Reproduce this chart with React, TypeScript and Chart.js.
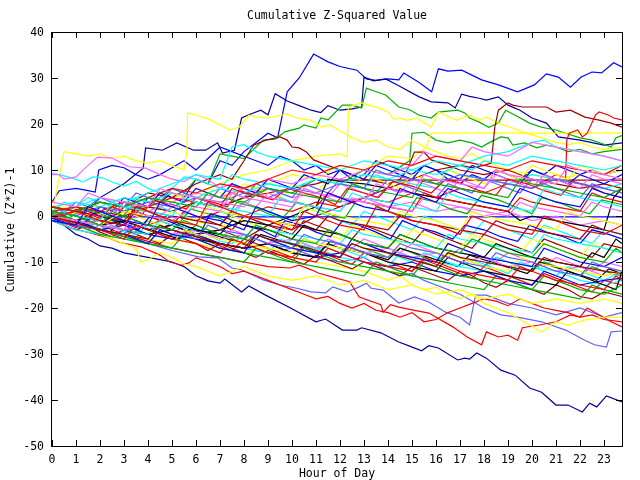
import React, { useEffect, useRef } from 'react';
import { Chart, registerables } from 'chart.js';
Chart.register(...registerables);

type Pt = [number, number];

const titleText = 'Cumulative Z-Squared Value';
const xTitle = 'Hour of Day';
const yTitle = 'Cumulative (Z*Z)-1';
const xTicks = [0, 1, 2, 3, 4, 5, 6, 7, 8, 9, 10, 11, 12, 13, 14, 15, 16, 17, 18, 19, 20, 21, 22, 23];
const yTicks = [-50, -40, -30, -20, -10, 0, 10, 20, 30, 40];
const xMax = 23.75;

const blueTop: Pt[] = [[0,1],[0.5,0],[1,-1],[2,-2],[2.5,0],[3,1],[3.5,0.5],[4,4],[4.5,3],[5,5],[5.5,4],[6,8],[6.5,7],[7,12],[7.5,11],[8,14],[8.5,16],[9,18],[9.4,17],[9.8,27],[10.3,30],[10.9,35.2],[11.5,33.5],[12,32.5],[12.7,31.7],[13.1,29.8],[13.5,29.5],[14,29.8],[14.45,29.6],[14.66,31.1],[15.3,29],[15.82,27],[16.1,32],[16.5,31.5],[17.07,31.7],[17.9,29.6],[18.6,28.5],[19.4,27],[20.1,28.5],[20.6,30.9],[21.1,30.2],[21.6,28],[22.05,30.2],[22.5,31.3],[22.9,31.1],[23.4,33.3],[23.75,32.4]];
const navyHigh: Pt[] = [[0,0],[0.5,1],[1,2],[1.5,1],[2,4],[3,7],[3.8,10.4],[3.9,14.8],[4.6,14.3],[5.2,15.9],[5.9,14.3],[6.4,14.3],[6.9,15.9],[7.1,13.7],[7.6,14.3],[7.9,21.3],[8.2,22],[8.7,23],[9,22],[9.3,26.6],[9.8,25],[10.3,24],[10.8,23],[11.2,22.5],[11.5,24],[12,23],[12.5,23.3],[12.9,23.7],[13.0,30.2],[13.4,29.4],[13.9,29.8],[14.45,28.3],[15.3,25.9],[15.8,24.8],[16.5,24.6],[16.8,23.5],[17.07,26.5],[17.4,26],[17.8,25.6],[18.1,25.2],[18.6,25.9],[19,24.1],[19.5,23],[20,21.3],[20.6,20.2],[21.1,17.2],[22,16.5],[23,15.4],[23.75,15.9]];
const blueMid: Pt[] = [[0,3],[0.3,5.5],[1,6],[1.5,5.5],[1.8,5.2],[1.95,10],[2.5,11],[3,10.5],[3.5,9],[4,8],[4.5,9],[5,10.5],[5.5,12],[6,10],[6.5,12.5],[7,15],[7.5,14],[8,13],[8.5,12],[9,11],[9.5,13],[10,12],[10.5,10],[11,11],[11.5,9],[12,10],[12.5,8],[13,9],[13.5,12],[14,11],[14.5,10],[15,9],[15.5,11],[16,10],[16.5,8],[17,7],[17.5,9],[18,8],[18.5,10],[19,9],[19.5,8],[20,10],[20.5,9],[21,11],[21.5,10],[22,9],[22.5,10],[23,9],[23.75,10]];
const greenTop: Pt[] = [[0,0],[0.5,-1],[1,-1.5],[1.5,0],[2,1],[2.5,0],[3,3],[3.5,2],[4,2],[4.5,4],[5,6],[5.5,5],[6,8],[6.5,7],[7,13.5],[7.5,13],[8,12.5],[8.5,15],[8.8,16.5],[9.3,16.7],[9.7,18.3],[10.3,19.1],[10.5,19.8],[11,19.1],[11.2,21.3],[11.5,20.9],[12.1,24.1],[12.5,24.1],[12.9,23.5],[13.1,27.8],[13.3,27.4],[13.9,26.3],[14.45,23.7],[14.9,23.1],[15.3,21.9],[15.8,21.3],[16.1,22.6],[16.9,23],[17.2,22.4],[17.4,21.3],[17.8,20.4],[18.2,19.3],[18.6,20.2],[18.9,23],[19.3,21.9],[19.9,20.2],[20.4,19.3],[21,18.7],[21.4,18],[22,17],[22.5,16.5],[23,15.6],[23.3,15],[23.5,17],[23.75,17.5]];
const greenMid: Pt[] = [[0,0],[1,2],[2,1],[3,0],[4,2],[5,1],[6,3],[7,2],[8,4],[9,6],[10,5],[11,8],[12,7],[13,10],[14,9],[14.9,12],[15,18],[15.5,18.2],[16,16.5],[16.5,15.9],[17,16.5],[17.5,15.9],[17.9,15],[18.2,15.9],[18.7,17.2],[19,17],[19.2,15.4],[19.7,15.9],[20.2,14.8],[20.6,15.4],[21,15],[21.5,14],[22,14.5],[22.5,13.5],[23,14],[23.75,14.5]];
const yellowEarly: Pt[] = [[0,0],[0.5,14],[1,13.5],[1.5,13],[2,13.5],[2.5,12.5],[3,13],[3.5,12],[4,11.5],[4.5,12],[5,11],[5.5,10],[5.62,14.3],[5.65,22.4],[6,22],[6.6,20.9],[7,19.8],[7.4,18.7],[7.8,19.3],[8.2,21.9],[8.5,21.5],[9,21.3],[9.8,22.2],[10.2,21.3],[10.8,20.8],[11.2,19.3],[11.6,19.8],[12,18.5],[12.5,17],[13,16],[13.5,16.5],[14,15],[14.5,14.5],[15,16.5],[15.5,15],[16,14],[16.5,13],[17,12.5],[17.5,13.5],[18,12],[19,10],[20,9],[21,8],[22,9],[23,7],[23.75,6]];
const yellowJump: Pt[] = [[0,0],[1,-1],[2,-2],[3,0],[4,2],[5,4],[6,5],[7,7],[8,9],[9,10],[10,12],[11,13],[12,13.5],[12.3,12.8],[12.35,23.7],[12.9,24.6],[13.2,24.1],[13.6,23.5],[14,22.6],[14.25,20.9],[14.45,21.3],[14.8,20.8],[15.2,21.3],[15.8,19.3],[16.1,22.6],[16.85,20.8],[17.4,21.9],[17.8,20.8],[18.1,21.5],[18.6,20.2],[19.1,19.3],[19.6,18.3],[20.3,17.2],[21,16],[21.5,15.5],[22,16],[22.5,15],[23,14.5],[23.75,15]];
const yellowFlat: Pt[] = [[0,0],[1,1],[2,2],[3,1],[4,1],[5,3],[6,5],[7,4],[8,6],[9,7],[10,9],[11,8],[12,11],[13,10],[14,13],[15,12.5],[15.6,15],[15.8,18],[23.75,18]];
const redJump: Pt[] = [[0,0],[1,-1],[2,1],[3,0],[4,-2],[5,0],[6,-1],[7,1],[8,0],[9,2],[10,1],[11,3],[12,2],[13,4],[14,3],[15,5],[16,4],[17,6],[18,5],[19,7],[20,6],[21,9],[21.4,8.3],[21.45,16.5],[21.55,18],[21.9,18.7],[22.1,17.2],[22.3,18],[22.65,22],[22.8,22.6],[23.2,21.9],[23.4,21.3],[23.75,20.9]];
const darkRedJump: Pt[] = [[0,0],[1,-1],[2,-2],[3,-1],[4,-3],[5,-2],[6,-4],[7,-3],[8,-5],[9,-2],[10,-3],[11,0],[12,2],[13,4],[14,6],[15,8],[16,10],[17,11],[17.5,10.5],[18,11],[18.3,11.5],[18.45,19.3],[18.6,23],[19,24.6],[19.2,24.1],[19.6,23.7],[20.6,23.7],[21,22.6],[21.6,23],[22.2,21.5],[22.75,20.9],[23.3,20.2],[23.75,19.3]];
const darkRedMid: Pt[] = [[0,0],[1,1],[2,3],[3,2],[4,5],[5,4],[6,7],[7,9],[7.5,8],[8,12],[8.4,15.4],[8.9,16.5],[9.5,17.2],[9.8,16.5],[10,15],[10.3,14.8],[10.6,13.9],[10.9,12.2],[11.5,11],[12,10],[12.5,9],[13,8],[14,7],[14.5,8],[14.8,10],[15.1,13.9],[15.5,13.9],[15.8,12.2],[16.5,11],[17,10],[18,9],[19,10],[20,8],[21,7],[22,6],[23,7],[23.75,6]];
const darkRedFlat: Pt[] = [[0,0],[1,-1],[2,1],[3,0],[4,2],[5,1],[6,3],[7,2],[8,4],[9,5],[10,6],[11,7],[11.5,7.8],[23.75,7.8]];
const blueFlat: Pt[] = [[0,0],[0.5,-1],[1,-1.5],[1.5,-1],[2,-2],[2.4,-0.2],[23.75,-0.2]];
const navyLow: Pt[] = [[0,0],[0.5,-2],[1,-4],[1.5,-5],[2,-6.5],[2.5,-7],[3,-8],[3.5,-8.5],[4,-9],[4.5,-9.5],[5,-10],[5.5,-11],[6,-13],[6.5,-14.1],[7,-14.6],[7.2,-13.7],[7.9,-16.5],[8.2,-15.2],[8.9,-17.2],[9.9,-19.9],[11,-23],[11.4,-22.4],[12.1,-24.8],[12.7,-24.8],[12.9,-24.3],[13.7,-25.4],[14.45,-27.4],[14.9,-28.3],[15.4,-29.3],[15.7,-28.2],[16.1,-28.7],[16.9,-31.3],[17.2,-30.9],[17.4,-31.1],[17.7,-29.8],[18.1,-30.9],[18.7,-33.5],[19.3,-34.6],[19.9,-37.4],[20.4,-38.3],[21,-41.1],[21.5,-41.1],[22.1,-42.6],[22.4,-40.7],[22.7,-41.5],[23.1,-39.1],[23.75,-40.4]];
const slateLow: Pt[] = [[0,0],[1,-2],[2,-3],[3,-4.5],[4,-6],[5,-7.5],[6.1,-8.9],[6.9,-9.1],[7.5,-11.3],[7.9,-11.7],[8.8,-13.9],[9.5,-15],[10.2,-15.7],[10.8,-16.5],[11.4,-16.7],[11.7,-15.4],[12.3,-16.5],[12.8,-15.4],[13.1,-14.6],[13.3,-15.7],[13.8,-16.1],[14.45,-18.9],[15.1,-17.6],[15.7,-18.7],[16.4,-20.9],[17,-22],[17.4,-23.7],[17.65,-17.2],[18.1,-17.2],[18.4,-17.8],[19,-19],[20,-20],[21,-21.5],[22,-20],[23,-22],[23.75,-21]];
const slateLowest: Pt[] = [[0,0],[1,-1],[2,-3],[3,-2],[4,-4],[5,-5],[6,-4],[7,-6],[8,-7],[9,-8],[10,-7],[11,-9],[12,-10],[13,-9],[14,-12],[14.5,-13],[15,-12.5],[15.5,-14],[16,-15],[16.5,-16],[17,-17],[17.5,-18.5],[18,-20],[18.7,-21.5],[19.4,-22],[20.4,-23],[21.4,-24.8],[22.2,-27],[22.6,-28],[23.1,-28.5],[23.3,-25.2],[23.75,-25]];
const redLow: Pt[] = [[0,0],[1,-1.5],[2,-3],[3,-4],[4,-5.5],[5,-7],[6,-8],[7,-9],[8,-10],[9,-11],[9.9,-11.3],[10.3,-10.7],[10.8,-11.7],[11.1,-12.4],[11.7,-13.3],[12.4,-14.3],[12.8,-17.6],[13.7,-19.3],[13.8,-20.9],[14.1,-19.3],[14.45,-19.8],[15,-20.4],[15.7,-21.1],[16.7,-24.1],[17.3,-26.3],[17.9,-28],[18.1,-25.2],[18.6,-26.3],[19,-25.9],[19.4,-27],[19.6,-24.3],[20.3,-23.7],[21,-23],[21.6,-21.5],[22,-22],[22.3,-20],[23.3,-23],[23.75,-24.1]];
const redLeftLow: Pt[] = [[0,-1],[0.8,-2.6],[1.6,-3.7],[2.4,-4.8],[2.8,-5.7],[3.7,-6.7],[4.5,-8.5],[4.9,-10],[5.4,-10.7],[5.7,-10.2],[6,-9.1],[6.5,-10],[7,-11],[7.5,-12.5],[8,-12],[8.5,-13],[9,-14],[9.5,-15],[10,-16],[10.5,-17],[11,-18],[11.5,-17.5],[12,-19],[12.5,-20],[13,-19],[13.5,-20.5],[14,-21],[14.5,-22],[15,-21],[15.5,-23],[16,-22.5],[16.5,-21],[17,-20],[17.5,-19],[18,-18],[18.5,-18.5],[19,-19.5],[19.5,-18],[20,-19],[20.5,-20],[21,-20.5],[21.5,-21],[22,-22],[22.5,-21.5],[23,-22.5],[23.75,-23]];
const yellowLow: Pt[] = [[0,0],[1,-2],[2,-4],[3,-6],[3.5,-7],[3.7,-10],[4,-9.5],[4.5,-8],[5,-9],[5.5,-10.5],[6,-11],[6.5,-12],[7,-13],[7.5,-12],[8,-11],[9,-13],[10,-14],[11,-13],[12,-15],[13,-14],[14,-16],[15,-15],[16,-17],[17,-16],[18,-18],[19,-17],[20,-19],[21,-18],[22,-19],[23,-18],[23.75,-19]];
const yellowLow2: Pt[] = [[0,0],[1,-1],[2,-3],[3,-2],[4,-4],[5,-5],[6,-6],[7,-7],[8,-8],[9,-7],[10,-9],[11,-10],[12,-11],[13,-12],[14,-14],[14.5,-13],[15,-15],[15.5,-16],[16,-15.5],[16.5,-17],[17,-18],[17.5,-17],[18,-19],[18.5,-20],[19,-21],[19.5,-22.5],[20.1,-24.3],[20.4,-25.2],[21,-23],[21.5,-23.7],[22.2,-22.6],[23,-22],[23.75,-22]];
const magentaHigh: Pt[] = [[0,9],[0.3,9],[0.5,8],[1,8.5],[1.5,11],[1.9,12.8],[2.5,12.6],[2.9,11.5],[3.2,10.7],[3.9,10.4],[4.5,9],[5,8],[5.5,7.5],[6,9],[6.5,8],[7,6],[7.5,7],[8,5],[9,6],[10,4],[11,5],[12,3],[13,4],[14,2],[15,3],[16,1],[17,2],[18,0],[19,1],[20,-1],[21,0],[22,-2],[23,-1],[23.75,-2]];
const cyanHigh: Pt[] = [[0,9.3],[0.4,8.9],[0.8,8.3],[1.3,7.4],[1.7,8.5],[2.1,8.3],[2.5,7.4],[3,6.5],[3.5,7.5],[4,6],[4.5,5],[5,6],[5.5,8.5],[6,8],[6.5,7],[7,6],[7.5,9],[8,8],[9,7],[10,6],[10.5,9],[11,8],[12,7],[13,6],[13.5,9],[14,8],[15,7],[16,6],[16.5,10],[17,9],[18,8],[19,7],[20,9],[21,8],[22,7],[23,6],[23.75,7]];
const bg1: Pt[] = [[0,2],[1,1],[2,-1],[3,-2],[3.5,2],[4,1],[5,-1],[6,-2],[6.5,3],[7,2],[8,0],[9,-1],[10,-3],[10.5,1],[11,0],[12,-2],[13,-3],[13.5,2],[14,1],[15,-1],[16,-2],[17,-4],[17.5,0],[18,-1],[19,-3],[20,-4],[20.5,0],[21,-1],[22,-3],[23,-4],[23.75,-2]];
const bg2: Pt[] = [[0,1],[1,0],[2,-2],[2.5,1],[3,0],[4,-2],[5,-3],[5.5,-1],[6,-2],[7,-4],[8,-5],[8.5,-2],[9,-3],[10,-5],[11,-6],[11.5,-3],[12,-4],[13,-6],[14,-7],[14.5,-4],[15,-5],[16,-7],[17,-8],[17.5,-5],[18,-6],[19,-8],[20,-9],[20.5,-6],[21,-7],[22,-9],[23,-10],[23.5,-7],[23.75,-8]];
const bg3: Pt[] = [[0,-1],[1,-2],[1.5,2],[2,1],[3,-1],[4,-2],[4.5,3],[5,2],[6,0],[7,-1],[8,-3],[8.5,2],[9,1],[10,-1],[11,0],[11.5,5],[12,4],[13,2],[14,1],[14.5,6],[15,5],[16,3],[16.5,6],[17,5],[18,3],[19,2],[19.5,6],[20,5],[21,3],[22,2],[22.5,6],[23,5],[23.75,4]];
const bg4: Pt[] = [[0,0],[1,-1],[2,-2],[3,-3],[3.5,1],[4,0],[5,-1],[6,2],[7,1],[7.5,5],[8,4],[9,3],[10,2],[10.5,6],[11,5],[12,4],[13,3],[13.5,7],[14,6],[15,5],[15.5,9],[16,8],[17,7],[18,6],[18.5,10],[19,9],[20,8],[21,7],[21.5,11],[22,10],[23,9],[23.75,8]];
const bg5: Pt[] = [[0,1],[1,0],[2,-1],[2.5,3],[3,2],[4,1],[5,0],[5.5,4],[6,3],[7,2],[8,1],[9,0],[9.5,4],[10,3],[11,2],[12,1],[12.5,5],[13,4],[14,3],[15,2],[16,1],[16.5,5],[17,4],[18,3],[19,2],[20,1],[20.5,6],[21,5],[22,4],[23,3],[23.75,2]];
const bg6: Pt[] = [[0,0],[1,-1.5],[2,-3],[3,-4],[4,-5],[4.5,-2],[5,-3],[6,-4.5],[7,-6],[8,-7],[8.5,-4],[9,-5],[10,-6],[11,-7.5],[12,-9],[12.5,-6],[13,-7],[14,-8],[15,-9.5],[16,-11],[16.5,-8],[17,-9],[18,-10],[19,-11],[20,-12],[20.5,-9],[21,-10],[22,-11],[23,-12],[23.75,-12.5]];
const bg7: Pt[] = [[0,0],[1,-1],[2,-2],[3,1],[4,0],[5,-1],[6,-2],[6.5,2],[7,1],[8,0],[9,-1],[10,-2],[10.5,2],[11,1],[12,0],[13,-1],[14,-2],[14.5,1],[15,0],[16,-1],[17,-3],[17.5,1],[18,0],[19,-1],[20,-2],[21,-3],[21.5,1],[22,0],[23,-1],[23.75,-2]];
const bg8: Pt[] = [[0,1],[1,0],[2,-1],[3,-2],[3.5,1],[4,0],[5,-1],[6,-3],[7,-4],[7.5,-1],[8,-2],[9,-3],[10,-5],[10.5,-2],[11,-3],[12,-4],[13,-6],[14,-7],[14.5,-4],[15,-5],[16,-7],[17,-8],[18,-9],[18.5,-6],[19,-7],[20,-9],[21,-10],[22,-11],[22.5,-8],[23,-9],[23.5,-5],[23.75,-6]];
const bg9: Pt[] = [[0,-1],[1,-2],[2,-3],[3,-4],[3.5,-1],[4,-2],[5,-3],[6,-5],[6.5,-2],[7,-3],[8,-4],[9,-6],[10,-7],[10.5,-4],[11,-5],[12,-6],[13,-8],[14,-9],[14.5,-6],[15,-7],[16,-8],[17,-10],[18,-11],[18.5,-8],[19,-9],[20,-10],[21,-12],[22,-13],[22.5,-10],[23,-11],[23.75,-12]];
const bg10: Pt[] = [[0,0],[1,-2],[2,-3],[3,-5],[3.5,-2],[4,-3],[5,-5],[6,-6],[7,-8],[7.5,-5],[8,-6],[9,-8],[10,-9],[11,-10],[11.5,-7],[12,-8],[13,-10],[14,-11],[15,-12],[15.5,-9],[16,-10],[17,-12],[18,-13],[19,-14],[19.5,-11],[20,-12],[21,-14],[22,-15],[23,-16],[23.5,-13],[23.75,-14]];
const bg11: Pt[] = [[0,2],[1,1],[2,3],[3,2],[4,4],[5,3],[6,2],[6.5,5],[7,4],[8,3],[9,6],[10,5],[11,4],[12,3],[12.5,7],[13,6],[14,5],[15,4],[15.5,8],[16,7],[17,6],[18,5],[19,4],[19.5,8],[20,7],[21,6],[22,5],[23,4],[23.75,6]];
const bg12: Pt[] = [[0,0],[1,-1],[2,-3],[3,-4],[4,-6],[4.5,-3],[5,-4],[6,-5],[7,-7],[8,-8],[8.5,-4],[9,-5],[10,-7],[11,-8],[12,-9],[12.5,-5],[13,-6],[14,-8],[15,-9],[16,-10],[16.5,-6],[17,-7],[18,-9],[19,-10],[20,-11],[20.5,-7],[21,-8],[22,-10],[23,-11],[23.75,-9]];
const bg13: Pt[] = [[0,3],[1,2],[1.5,5],[2,4],[3,3],[4,2],[4.5,6],[5,5],[6,4],[7,3],[8,2],[8.5,5],[9,4],[10,3],[11,2],[12,1],[12.5,4],[13,3],[14,2],[15,1],[15.5,4],[16,3],[17,2],[18,1],[19,0],[19.5,3],[20,2],[21,1],[22,0],[22.5,3],[23,2],[23.75,1]];
const bg14: Pt[] = [[0,0],[1,-1],[2,-2],[3,-3],[4,-4],[4.5,-1],[5,-2],[6,-3],[7,-4],[8,-5],[8.5,-2],[9,-3],[10,-4],[11,-5],[12,-6],[12.5,-3],[13,-4],[14,-5],[15,-6],[16,-7],[16.5,-4],[17,-5],[18,-6],[19,-7],[20,-8],[20.5,-4],[21,-5],[22,-6],[23,-7],[23.75,-8]];
const bg15: Pt[] = [[0,1],[1,2],[2,1],[3,3],[4,2],[5,4],[6,3],[7,2],[7.5,6],[8,5],[9,4],[10,3],[11,2],[11.5,5],[12,4],[13,3],[14,2],[15,1],[15.5,5],[16,4],[17,3],[18,2],[19,1],[19.5,4],[20,3],[21,2],[22,1],[22.5,5],[23,4],[23.75,3]];
const bg16: Pt[] = [[0,0],[1,-2],[2,-3],[3,-4],[4,-5],[5,-6],[5.5,-3],[6,-4],[7,-5],[8,-6],[9,-7],[10,-8],[10.5,-5],[11,-6],[12,-7],[13,-8],[14,-9],[14.5,-6],[15,-7],[16,-8],[17,-9],[18,-11],[19,-12],[19.5,-9],[20,-10],[21,-11],[22,-12],[23,-13],[23.75,-12]];
const bg17: Pt[] = [[0,-1],[1,-2],[2,-4],[3,-5],[4,-6],[5,-7],[5.5,-4],[6,-5],[7,-7],[8,-8],[9,-9],[10,-10],[10.5,-7],[11,-8],[12,-10],[13,-11],[14,-12],[15,-13],[15.5,-10],[16,-11],[17,-13],[18,-14],[19,-15],[20,-16],[20.5,-13],[21,-14],[22,-16],[23,-17],[23.75,-15]];
const bg18: Pt[] = [[0,2],[1,1],[2,0],[3,-1],[3.5,2],[4,1],[5,0],[6,-1],[7,-2],[7.5,1],[8,0],[9,-1],[10,-2],[11,-3],[11.5,0],[12,-1],[13,-2],[14,-3],[14.5,0],[15,-1],[16,-2],[17,-3],[18,-4],[18.5,-1],[19,-2],[20,-3],[21,-4],[22,-5],[22.5,-2],[23,-3],[23.75,-4]];
const bg19: Pt[] = [[0,1],[1,0],[2,2],[3,1],[4,3],[5,2],[6,4],[7,3],[8,5],[9,4],[10,6],[11,5],[12,7],[13,6],[13.5,10],[14,9],[15,8],[16,7],[17,9],[18,8],[19,7],[20,6],[21,8],[22,7],[23,6],[23.75,5]];
const bg20: Pt[] = [[0,0],[1,-1],[2,-2],[3,-3],[4,-4],[5,-3],[6,-5],[7,-6],[8,-7],[9,-6],[10,-8],[11,-9],[11.5,-6],[12,-7],[13,-8],[14,-10],[15,-11],[16,-12],[16.5,-9],[17,-10],[18,-12],[19,-13],[20,-14],[21,-15],[21.5,-12],[22,-13],[23,-15],[23.5,-16],[23.75,-12]];
const bg21: Pt[] = [[0,2],[1,3],[2,2],[3,4],[4,3],[5,5],[6,4],[7,6],[8,5],[9,7],[10,6],[11,8],[12,7],[13,9],[14,8],[15,10],[16,9],[17,11],[17.5,10],[18,12],[19,11],[20,13],[21,12],[22,11],[23,10],[23.75,11]];
const bg22: Pt[] = [[0,-1],[1,-2],[2,-1],[3,-3],[4,-2],[5,-4],[6,-3],[7,-5],[8,-4],[9,-6],[10,-5],[11,-7],[12,-6],[13,-8],[14,-7],[15,-9],[16,-8],[17,-10],[18,-9],[19,-11],[20,-10],[21,-12],[22,-11],[23,-13],[23.75,-12]];
const bg23: Pt[] = [[0,0],[1,-2],[2,-3],[3,-2],[4,-4],[5,-5],[6,-4],[7,-6],[8,-7],[9,-6],[10,-8],[11,-9],[12,-8],[13,-10],[14,-11],[15,-10],[16,-12],[17,-13],[18,-12],[19,-14],[20,-15],[20.5,-12],[21,-13],[22,-15],[23,-14],[23.75,-13.5]];
const bg24: Pt[] = [[0,0],[1,1],[2,3],[3,2],[4,4],[5,6],[6,5],[7,7],[8,6],[9,8],[10,10],[11,9],[12,11],[13,10],[14,12],[15,11],[16,13],[17,12],[18,11],[19,10],[20,12],[21,11],[22,10],[23,9],[23.75,11]];
const bg25: Pt[] = [[0,0],[1,-2],[2,-3],[3,-4.5],[4,-6],[5,-7],[6,-8],[7,-9],[8,-10],[8.5,-7],[9,-8],[10,-10],[11,-11],[12,-12],[13,-13],[13.5,-10],[14,-11],[15,-13],[16,-14],[17,-15],[18,-16],[18.5,-13],[19,-14],[20,-16],[21,-17],[22,-18],[22.5,-15],[23,-16],[23.75,-17]];
const bg26: Pt[] = [[0,-1],[1,-3],[2,-4],[3,-5],[4,-6],[4.5,-3],[5,-4],[6,-5],[7,-6],[8,-7],[9,-8],[9.5,-5],[10,-6],[11,-7],[12,-9],[13,-10],[14,-11],[14.5,-8],[15,-9],[16,-10],[17,-11],[18,-12],[18.5,-9],[19,-10],[20,-11],[21,-12],[22,-14],[23,-15],[23.75,-14]];
const bg27: Pt[] = [[0,0],[1,-1],[2,-2],[3,-1],[4,-3],[5,-2],[6,-4],[7,-3],[8,-1],[9,-2],[10,0],[11,2],[11.5,8],[12,7.5],[13,7],[14,6],[15,5],[16,4],[17,3],[18,2],[19,1],[19.5,-1],[20,0],[21,-1],[22,-2],[23,-3],[23.4,4],[23.75,6]];
const bg28: Pt[] = [[0,0],[1,1],[2,0],[3,2],[4,1],[5,3],[6,5],[7,4],[8,6],[9,8],[10,7],[11,9],[12,8],[13,10],[14,9],[15,11],[15.5,14],[16,13],[17,12],[17.5,15],[18,14],[19,13],[20,16],[21,15],[22,14],[23,13],[23.75,12]];
const bg29: Pt[] = [[0,0],[1,2],[2,4],[3,3],[4,5],[5,7],[6,9],[7,8],[7.5,15],[8,15.5],[8.5,14],[9,13],[10,12],[11,11],[12,10],[13,12],[14,11],[15,10],[16,12],[17,11],[18,13],[19,14],[20,16],[20.5,16.5],[21,15],[22,14],[23,13],[23.75,12]];
const bg30: Pt[] = [[0,1],[0.5,0],[1,1.5],[1.5,0.5],[2,-0.5],[2.5,2],[3,1],[3.7,0],[4.2,3.5],[5,2.5],[5.6,1.5],[6,4],[6.7,3],[7.3,2],[7.8,5.5],[8.5,4.5],[9.2,3.5],[9.8,6],[10.5,5],[11.2,4],[11.8,2.5],[12.3,6],[13,5],[13.6,4],[14.2,7.5],[15,6.5],[15.8,5],[16.4,8],[17.1,7],[17.8,5.5],[18.5,4.5],[19,8],[19.8,7],[20.5,5.5],[21.2,4.5],[21.7,7.5],[22.4,6.5],[23,5],[23.75,4]];
const bg31: Pt[] = [[0,-0.5],[0.6,-1.5],[1.2,-2.5],[1.7,0.5],[2.3,-0.5],[3,-1.5],[3.6,-3],[4.1,0],[4.8,-1],[5.5,-2.5],[6.2,-3.5],[6.6,0.5],[7.3,-0.5],[8,-2],[8.7,-3],[9.3,-4.5],[9.7,-1],[10.4,-2],[11,-3.5],[11.6,-4.5],[12.1,-1],[12.8,-2],[13.5,-3.5],[14.1,-5],[14.6,-1],[15.3,-2.5],[16,-3.5],[16.7,-5],[17.2,-2],[18,-3],[18.7,-4.5],[19.4,-5.5],[19.9,-2],[20.6,-3.5],[21.3,-4.5],[22,-6],[22.5,-3],[23.2,-4],[23.75,-5]];
const bg32: Pt[] = [[0,0.5],[0.7,-0.5],[1.3,1.5],[2,0.5],[2.8,-1],[3.3,2],[4,1],[4.7,-0.5],[5.3,-1.5],[5.8,1.5],[6.5,0.5],[7.2,-1],[7.7,3],[8.4,2],[9,0.5],[9.6,-0.5],[10.2,3],[10.9,2],[11.5,0.5],[12.2,-0.5],[12.7,3.5],[13.4,2.5],[14,1],[14.7,0],[15.2,4],[16,3],[16.6,1.5],[17.3,0.5],[17.9,4.5],[18.6,3.5],[19.3,2],[20,0.5],[20.4,4],[21.1,3],[21.8,1.5],[22.4,0.5],[22.9,3.5],[23.75,2.5]];
const bg33: Pt[] = [[0,0],[0.5,-1],[1,-2],[1.5,-1.5],[2,-3],[2.5,-2],[3,-3.5],[3.5,-4],[4,-2],[4.5,-3],[5,-4],[5.5,-5],[6,-3],[6.5,-4],[7,-5.5],[7.5,-6],[8,-4],[8.5,-5],[9,-6],[9.5,-7],[10,-5],[10.5,-6],[11,-7.5],[11.5,-6],[12,-7],[12.5,-8],[13,-9],[13.5,-7],[14,-8],[14.5,-9],[15,-10],[15.5,-8],[16,-9],[16.5,-10],[17,-11],[17.5,-9.5],[18,-10.5],[18.5,-11.5],[19,-12.5],[19.5,-10],[20,-11],[20.5,-12],[21,-13],[21.5,-11],[22,-12],[22.5,-13],[23,-14],[23.75,-12]];
const bg34: Pt[] = [[0,0],[0.5,1],[1,0],[1.5,2],[2,1],[2.5,0],[3,3],[3.5,2],[4,1],[4.5,0],[5,2],[5.5,1],[6,4],[6.5,3],[7,2],[7.5,1],[8,3],[8.5,2],[9,5],[9.5,4],[10,3],[10.5,6],[11,5],[11.5,4],[12,7],[12.5,6],[13,5],[13.5,4],[14,6],[14.5,5],[15,8],[15.5,7],[16,6],[16.5,5],[17,8],[17.5,7],[18,6],[18.5,9],[19,8],[19.5,7],[20,6],[20.5,9],[21,8],[21.5,7],[22,6],[22.5,9],[23,8],[23.75,7]];
const bg35: Pt[] = [[0,-1],[0.5,-2],[1,-3],[1.5,-2],[2,-3.5],[2.5,-4.5],[3,-3],[3.5,-4],[4,-5],[4.5,-6],[5,-4],[5.5,-5],[6,-6],[6.5,-7.5],[7,-6],[7.5,-7],[8,-8],[8.5,-9],[9,-7.5],[9.5,-8.5],[10,-9.5],[10.5,-10.5],[11,-8.5],[11.5,-9.5],[12,-10.5],[12.5,-11.5],[13,-10],[13.5,-11],[14,-12],[14.5,-13],[15,-11],[15.5,-12],[16,-13],[16.5,-14],[17,-12],[17.5,-13],[18,-14.5],[18.5,-15.5],[19,-14],[19.5,-15],[20,-16],[20.5,-17],[21,-15],[21.5,-16],[22,-17.5],[22.5,-18],[23,-16.5],[23.75,-17.5]];
const bg36: Pt[] = [[0,1],[0.5,2],[1,1],[1.5,0],[2,-1],[2.5,2],[3,1],[3.5,0],[4,-1],[4.5,-2],[5,1],[5.5,0],[6,-1],[6.5,-2],[7,-3],[7.5,0],[8,-1],[8.5,-2],[9,-3],[9.5,-4],[10,-1],[10.5,-2],[11,-3],[11.5,-4],[12,-5],[12.5,-2],[13,-3],[13.5,-4],[14,-5],[14.5,-6],[15,-3],[15.5,-4],[16,-5],[16.5,-6],[17,-7],[17.5,-4],[18,-5],[18.5,-6],[19,-7],[19.5,-8],[20,-5],[20.5,-6],[21,-7],[21.5,-8],[22,-9],[22.5,-6],[23,-7],[23.75,-8]];
const bg37: Pt[] = [[0,0.5],[0.6,-0.5],[1.2,-1.5],[1.8,-2.5],[2.4,-3.5],[2.9,-1],[3.5,-2],[4.1,-3],[4.7,-4],[5.3,-5],[5.8,-2.5],[6.4,-3.5],[7,-4.5],[7.6,-5.5],[8.2,-6.5],[8.7,-4],[9.3,-5],[9.9,-6],[10.5,-7],[11.1,-8],[11.6,-5.5],[12.2,-6.5],[12.8,-7.5],[13.4,-8.5],[14,-9.5],[14.5,-7],[15.1,-8],[15.7,-9],[16.3,-10],[16.9,-11],[17.4,-8.5],[18,-9.5],[18.6,-10.5],[19.2,-11.5],[19.8,-12.5],[20.3,-10],[20.9,-11],[21.5,-12],[22.1,-13],[22.7,-14],[23.2,-11.5],[23.75,-12.5]];
const bg38: Pt[] = [[0,2],[0.5,1],[1,3],[1.5,2],[2,4],[2.5,3],[3,2],[3.5,5],[4,4],[4.5,3],[5,6],[5.5,5],[6,4],[6.5,3],[7,6],[7.5,5],[8,4],[8.5,7],[9,6],[9.5,5],[10,4],[10.5,7],[11,6],[11.5,5],[12,8],[12.5,7],[13,6],[13.5,5],[14,8],[14.5,7],[15,6],[15.5,5],[16,4],[16.5,7],[17,6],[17.5,5],[18,8],[18.5,7],[19,6],[19.5,5],[20,8],[20.5,7],[21,6],[21.5,5],[22,4],[22.5,7],[23,6],[23.75,5]];
const bg39: Pt[] = [[0,0],[0.5,-1.5],[1,-2.5],[1.5,-1],[2,-2],[2.5,-3],[3,-4],[3.5,-2],[4,-3],[4.5,-4],[5,-5],[5.5,-3.5],[6,-4.5],[6.5,-5.5],[7,-6.5],[7.5,-7.5],[8,-5],[8.5,-6],[9,-7],[9.5,-8],[10,-9],[10.5,-6.5],[11,-7.5],[11.5,-8.5],[12,-9.5],[12.5,-10.5],[13,-8],[13.5,-9],[14,-10],[14.5,-11],[15,-12],[15.5,-9.5],[16,-10.5],[16.5,-11.5],[17,-12.5],[17.5,-13.5],[18,-11],[18.5,-12],[19,-13],[19.5,-14],[20,-15],[20.5,-12.5],[21,-13.5],[21.5,-14.5],[22,-15.5],[22.5,-16.5],[23,-14],[23.75,-15]];
const bg40: Pt[] = [[0,1],[0.5,0],[1,-1],[1.5,-2],[2,0],[2.5,-1],[3,-2],[3.5,-3],[4,-1],[4.5,-2],[5,-3],[5.5,-4],[6,-2],[6.5,-3],[7,-4],[7.5,-5],[8,-6],[8.5,-4],[9,-5],[9.5,-6],[10,-7],[10.5,-5],[11,-6],[11.5,-7],[12,-8],[12.5,-6],[13,-7],[13.5,-8],[14,-9],[14.5,-7],[15,-8],[15.5,-9],[16,-10],[16.5,-8],[17,-9],[17.5,-10],[18,-11],[18.5,-9],[19,-10],[19.5,-11],[20,-12],[20.5,-10],[21,-11],[21.5,-12],[22,-13],[22.5,-11],[23,-12],[23.75,-13]];
const bg41: Pt[] = [[0,0],[0.5,1],[1,0],[1.5,-1],[2,2],[2.5,1],[3,4],[3.5,3],[4,2],[4.5,5],[5,4],[5.5,3],[6,6],[6.5,5],[7,4],[7.5,7],[8,6],[8.5,5],[9,8],[9.5,7],[10,6],[10.5,9],[11,8],[11.5,7],[12,10],[12.5,9],[13,8],[13.5,11],[14,10],[14.5,9],[15,8],[15.5,11],[16,10],[16.5,9],[17,8],[17.5,11],[18,10],[18.5,9],[19,8],[19.5,7],[20,10],[20.5,9],[21,8],[21.5,7],[22,9],[22.5,8],[23,7],[23.75,9]];
const bg42: Pt[] = [[0,1],[0.5,3],[1,2],[1.5,4],[2,3],[2.5,2],[3,1],[3.5,4],[4,3],[4.5,2],[5,1],[5.5,0],[6,3],[6.5,2],[7,1],[7.5,0],[8,3],[8.5,2],[9,1],[9.5,0],[10,-1],[10.5,2],[11,1],[11.5,0],[12,-1],[12.5,-2],[13,1],[13.5,0],[14,-1],[14.5,-2],[15,-3],[15.5,0],[16,-1],[16.5,-2],[17,-3],[17.5,-4],[18,-1],[18.5,-2],[19,-3],[19.5,-4],[20,-5],[20.5,-2],[21,-3],[21.5,-4],[22,-5],[22.5,-6],[23,-3],[23.75,-4]];
const bg43: Pt[] = [[0,-1],[0.5,-2],[1,-1],[1.5,-3],[2,-2],[2.5,-4],[3,-3],[3.5,-1],[4,-2],[4.5,-3],[5,-4],[5.5,-2],[6,-3],[6.5,-4],[7,-5],[7.5,-3],[8,-4],[8.5,-5],[9,-6],[9.5,-4],[10,-5],[10.5,-6],[11,-7],[11.5,-5],[12,-6],[12.5,-7],[13,-5],[13.5,-6],[14,-7],[14.5,-8],[15,-6],[15.5,-7],[16,-8],[16.5,-9],[17,-7],[17.5,-8],[18,-9],[18.5,-10],[19,-8],[19.5,-9],[20,-10],[20.5,-11],[21,-9],[21.5,-10],[22,-11],[22.5,-12],[23,-10],[23.75,-11]];
const bg44: Pt[] = [[0,0],[0.5,1],[1,2],[1.5,1],[2,0],[2.5,-1],[3,2],[3.5,1],[4,0],[4.5,-1],[5,-2],[5.5,1],[6,0],[6.5,-1],[7,-2],[7.5,-3],[8,0],[8.5,-1],[9,-2],[9.5,-3],[10,-4],[10.5,-1],[11,-2],[11.5,-3],[12,-4],[12.5,-5],[13,-2],[13.5,-3],[14,-4],[14.5,-5],[15,-6],[15.5,-3],[16,-4],[16.5,-5],[17,-6],[17.5,-7],[18,-4],[18.5,-5],[19,-6],[19.5,-7],[20,-8],[20.5,-5],[21,-6],[21.5,-7],[22,-8],[22.5,-9],[23,-6],[23.75,-7]];
const bg45: Pt[] = [[0,0],[0.5,-1],[1,1],[1.5,0],[2,3],[2.5,2],[3,1],[3.5,4],[4,3],[4.5,2],[5,5],[5.5,4],[6,3],[6.5,6],[7,5],[7.5,4],[8,7],[8.5,6],[9,5],[9.5,4],[10,7],[10.5,6],[11,5],[11.5,8],[12,7],[12.5,6],[13,9],[13.5,8],[14,7],[14.5,6],[15,9],[15.5,8],[16,7],[16.5,10],[17,9],[17.5,8],[18,7],[18.5,10],[19,9],[19.5,8],[20,11],[20.5,10],[21,9],[21.5,8],[22,11],[22.5,10],[23,9],[23.75,10]];

const RED = '#ff0000', GREEN = '#00b000', BLUE = '#0000ff', MAGENTA = '#ff66ff', CYAN = '#00ffff';
const DKRED = '#a00000', YELLOW = '#ffff00', NAVY = '#0000a0', SLATE = '#6060ff', BLACK = '#000000';

const seriesList: Pt[][] = [bg1, bg2, bg3, bg4, bg5, bg6, bg7, bg8, bg9, bg10, bg11, bg12, bg13, bg14, bg15, bg16, bg17, bg18, bg19, bg20, bg21, bg22, bg23, bg24, bg25, bg26, bg27, bg28, bg29,
  bg30, bg31, bg32, bg33, bg34, bg35, bg36, bg37, bg38, bg39, bg40, bg41, bg42, bg43, bg44, bg45,
  magentaHigh, cyanHigh, yellowLow, yellowLow2, redLeftLow, redLow, slateLowest, slateLow, navyLow, blueFlat, darkRedFlat, darkRedMid, darkRedJump, redJump, yellowFlat, yellowJump, yellowEarly, greenMid, greenTop, blueMid, navyHigh, blueTop];
const seriesColors: string[] = [RED, GREEN, BLUE, MAGENTA, CYAN, DKRED, YELLOW, BLACK, SLATE, RED, GREEN, BLUE, MAGENTA, CYAN, RED, YELLOW, GREEN, DKRED, SLATE, BLACK, CYAN, MAGENTA, BLUE, RED, GREEN, CYAN, BLACK, MAGENTA, CYAN,
  RED, BLUE, GREEN, CYAN, MAGENTA, DKRED, YELLOW, BLACK, SLATE, RED, GREEN, BLUE, CYAN, MAGENTA, DKRED, YELLOW,
  MAGENTA, CYAN, YELLOW, YELLOW, RED, RED, SLATE, SLATE, NAVY, BLUE, DKRED, DKRED, DKRED, RED, YELLOW, YELLOW, YELLOW, GREEN, GREEN, BLUE, NAVY, BLUE];

const FONT = '11.5px "DejaVu Sans Mono"';

const framePlugin = {
  id: 'gnuFrame',
  afterDatasetsDraw(chart: any) {
    const { ctx, chartArea: a, scales } = chart;
    const xs = scales.x, ys = scales.y;
    ctx.save();
    ctx.strokeStyle = '#000';
    ctx.lineWidth = 1;
    ctx.strokeRect(a.left - 0.5, a.top + 0.5, a.right - a.left + 1, a.bottom - a.top);
    ctx.beginPath();
    for (const t of xTicks) {
      const px = Math.round(xs.getPixelForValue(t)) + 0.5;
      ctx.moveTo(px, a.bottom); ctx.lineTo(px, a.bottom - 6);
      ctx.moveTo(px, a.top); ctx.lineTo(px, a.top + 6);
    }
    for (const t of yTicks) {
      const py = Math.round(ys.getPixelForValue(t)) + 0.5;
      ctx.moveTo(a.left, py); ctx.lineTo(a.left + 6, py);
      ctx.moveTo(a.right, py); ctx.lineTo(a.right - 6, py);
    }
    ctx.stroke();
    ctx.fillStyle = '#000';
    ctx.font = FONT;
    ctx.textBaseline = 'middle';
    ctx.textAlign = 'right';
    for (const t of yTicks) ctx.fillText(String(t), a.left - 8, ys.getPixelForValue(t) + 1);
    ctx.textAlign = 'center';
    for (const t of xTicks) ctx.fillText(String(t), xs.getPixelForValue(t), a.bottom + 14);
    ctx.fillText(xTitle, (a.left + a.right) / 2, a.bottom + 28);
    ctx.fillText(titleText, (a.left + a.right) / 2, 16);
    ctx.translate(11, 230);
    ctx.rotate(-Math.PI / 2);
    ctx.fillText(yTitle, 0, 0);
    ctx.restore();
  },
};

export default function App() {
  const ref = useRef<HTMLCanvasElement | null>(null);
  useEffect(() => {
    if (!ref.current) return;
    const chart = new Chart(ref.current, {
      type: 'line',
      data: {
        datasets: seriesList.map((s, i) => ({
          data: s.map(([x, y]) => ({ x, y })),
          borderColor: seriesColors[i],
          borderWidth: 1.2,
          pointRadius: 0,
          tension: 0,
          fill: false,
        })),
      },
      options: {
        animation: false,
        responsive: false,
        devicePixelRatio: 1,
        layout: { padding: { left: 52, top: 32, right: 18, bottom: 34 } },
        plugins: { legend: { display: false }, tooltip: { enabled: false }, title: { display: false } },
        scales: {
          x: { type: 'linear', min: 0, max: xMax, display: false },
          y: { type: 'linear', min: -50, max: 40, display: false },
        },
      },
      plugins: [framePlugin],
    });
    return () => chart.destroy();
  }, []);
  return (
    <div style={{ position: 'fixed', left: 0, top: 0, width: 640, height: 480, background: '#fff' }}>
      <canvas ref={ref} width={640} height={480} />
    </div>
  );
}
